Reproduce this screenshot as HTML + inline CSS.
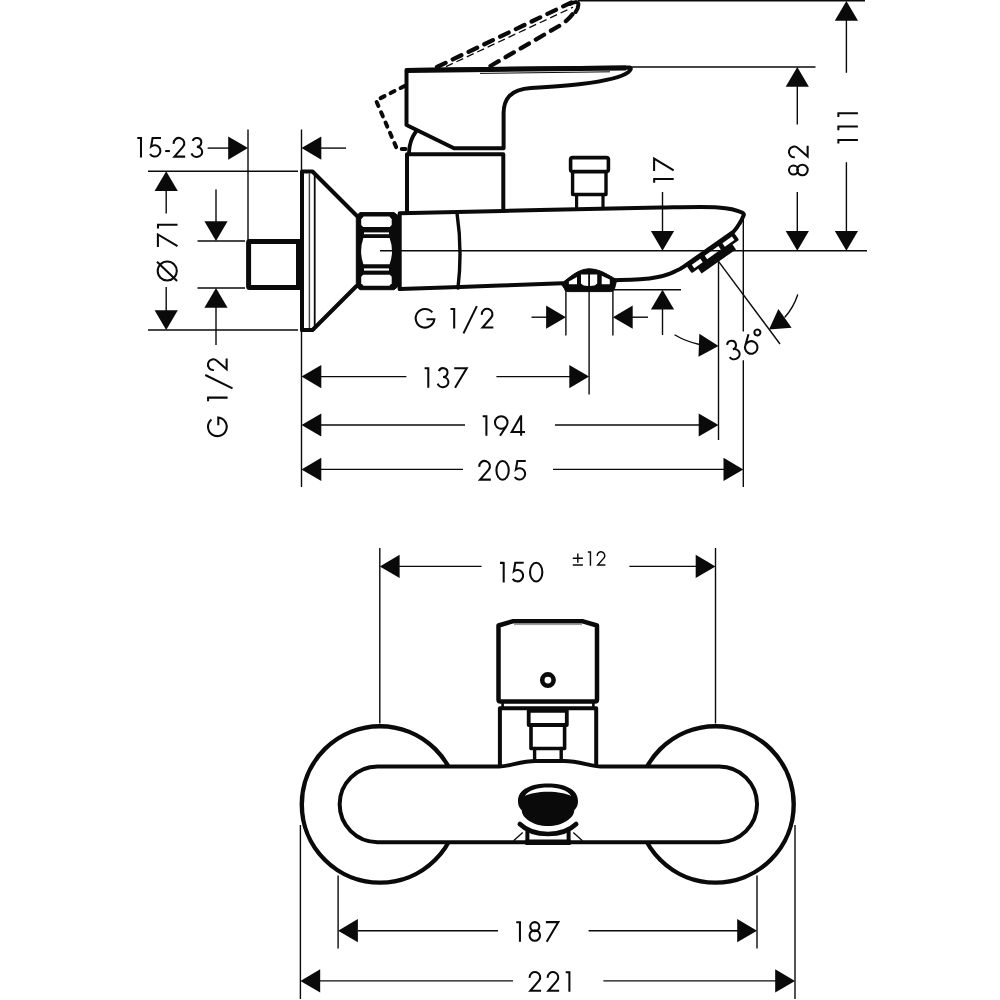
<!DOCTYPE html>
<html><head><meta charset="utf-8"><title>Dimension drawing</title>
<style>
html,body{margin:0;padding:0;background:#fff;}
body{width:1000px;height:1000px;overflow:hidden;font-family:"Liberation Sans",sans-serif;}
svg{display:block;}
</style></head>
<body>
<svg width="1000" height="1000" viewBox="0 0 1000 1000">
<rect x="0" y="0" width="1000" height="1000" fill="#ffffff"/>
<line x1="248" y1="129.5" x2="248" y2="240" stroke="#0a0a0a" stroke-width="1.4" />
<line x1="301.5" y1="129.5" x2="301.5" y2="487" stroke="#0a0a0a" stroke-width="1.4" />
<line x1="148" y1="171.3" x2="298" y2="171.3" stroke="#0a0a0a" stroke-width="1.4" />
<line x1="148" y1="330" x2="298" y2="330" stroke="#0a0a0a" stroke-width="1.4" />
<line x1="197.5" y1="241" x2="245" y2="241" stroke="#0a0a0a" stroke-width="1.4" />
<line x1="197.5" y1="288" x2="245" y2="288" stroke="#0a0a0a" stroke-width="1.4" />
<line x1="207.6" y1="148.1" x2="229" y2="148.1" stroke="#0a0a0a" stroke-width="1.4" />
<polygon points="248,148.1 228.2,159.7 228.2,136.5" fill="#0a0a0a"/>
<polygon points="301.5,148.1 321.3,136.5 321.3,159.7" fill="#0a0a0a"/>
<line x1="321" y1="148.1" x2="346" y2="148.1" stroke="#0a0a0a" stroke-width="1.4" />
<polygon points="166.2,171.3 177.8,191.1 154.6,191.1" fill="#0a0a0a"/>
<line x1="166.2" y1="190.5" x2="166.2" y2="213.5" stroke="#0a0a0a" stroke-width="1.4" />
<line x1="166.2" y1="287" x2="166.2" y2="311" stroke="#0a0a0a" stroke-width="1.4" />
<polygon points="166.2,330 154.6,310.2 177.8,310.2" fill="#0a0a0a"/>
<line x1="216" y1="189.5" x2="216" y2="222" stroke="#0a0a0a" stroke-width="1.4" />
<polygon points="216,241 204.4,221.2 227.6,221.2" fill="#0a0a0a"/>
<polygon points="216,288 227.6,307.8 204.4,307.8" fill="#0a0a0a"/>
<line x1="216" y1="307" x2="216" y2="345" stroke="#0a0a0a" stroke-width="1.4" />
<line x1="631" y1="67" x2="815.5" y2="67" stroke="#0a0a0a" stroke-width="1.4" />
<line x1="578" y1="0.5" x2="865" y2="0.5" stroke="#0a0a0a" stroke-width="2.2" />
<polygon points="797.3,67 808.9,86.8 785.7,86.8" fill="#0a0a0a"/>
<line x1="797.3" y1="86" x2="797.3" y2="124.5" stroke="#0a0a0a" stroke-width="1.4" />
<line x1="797.3" y1="192" x2="797.3" y2="232" stroke="#0a0a0a" stroke-width="1.4" />
<polygon points="797.3,250.7 785.7,230.9 808.9,230.9" fill="#0a0a0a"/>
<polygon points="846.4,1 858,20.8 834.8,20.8" fill="#0a0a0a"/>
<line x1="846.4" y1="20" x2="846.4" y2="72.8" stroke="#0a0a0a" stroke-width="1.4" />
<line x1="846.4" y1="162.2" x2="846.4" y2="231" stroke="#0a0a0a" stroke-width="1.4" />
<polygon points="846.4,250.7 834.8,230.9 858,230.9" fill="#0a0a0a"/>
<line x1="662.5" y1="192" x2="662.5" y2="232" stroke="#0a0a0a" stroke-width="1.4" />
<polygon points="662.5,250.7 650.9,230.9 674.1,230.9" fill="#0a0a0a"/>
<line x1="614" y1="289.8" x2="681" y2="289.8" stroke="#0a0a0a" stroke-width="1.4" />
<polygon points="662.5,289.8 674.1,309.6 650.9,309.6" fill="#0a0a0a"/>
<line x1="662.5" y1="309" x2="662.5" y2="335" stroke="#0a0a0a" stroke-width="1.4" />
<line x1="565.9" y1="291" x2="565.9" y2="335.5" stroke="#0a0a0a" stroke-width="1.4" />
<line x1="612.9" y1="291" x2="612.9" y2="335.5" stroke="#0a0a0a" stroke-width="1.4" />
<line x1="589.1" y1="272" x2="589.1" y2="394.4" stroke="#0a0a0a" stroke-width="1.4" />
<line x1="531.5" y1="317.2" x2="547" y2="317.2" stroke="#0a0a0a" stroke-width="1.4" />
<polygon points="565.9,317.2 546.1,328.8 546.1,305.6" fill="#0a0a0a"/>
<polygon points="612.9,317.2 632.7,305.6 632.7,328.8" fill="#0a0a0a"/>
<line x1="632" y1="317.2" x2="648" y2="317.2" stroke="#0a0a0a" stroke-width="1.4" />
<line x1="718.5" y1="261.3" x2="718.5" y2="440" stroke="#0a0a0a" stroke-width="1.4" />
<line x1="743.3" y1="218" x2="743.3" y2="331.5" stroke="#0a0a0a" stroke-width="1.4" />
<line x1="743.3" y1="360.3" x2="743.3" y2="487" stroke="#0a0a0a" stroke-width="1.4" />
<line x1="718.5" y1="261.3" x2="780" y2="344" stroke="#0a0a0a" stroke-width="1.4" />
<polygon points="301.5,376.6 321.3,365 321.3,388.2" fill="#0a0a0a"/>
<line x1="321" y1="376.6" x2="406.4" y2="376.6" stroke="#0a0a0a" stroke-width="1.4" />
<line x1="496.4" y1="376.6" x2="570" y2="376.6" stroke="#0a0a0a" stroke-width="1.4" />
<polygon points="589.1,376.6 569.3,388.2 569.3,365" fill="#0a0a0a"/>
<polygon points="301.5,425 321.3,413.4 321.3,436.6" fill="#0a0a0a"/>
<line x1="321" y1="425" x2="465" y2="425" stroke="#0a0a0a" stroke-width="1.4" />
<line x1="555" y1="425" x2="699.5" y2="425" stroke="#0a0a0a" stroke-width="1.4" />
<polygon points="718.5,425 698.7,436.6 698.7,413.4" fill="#0a0a0a"/>
<polygon points="301.5,469.4 321.3,457.8 321.3,481" fill="#0a0a0a"/>
<line x1="321" y1="469.4" x2="463" y2="469.4" stroke="#0a0a0a" stroke-width="1.4" />
<line x1="553" y1="469.4" x2="724.5" y2="469.4" stroke="#0a0a0a" stroke-width="1.4" />
<polygon points="743.3,469.4 723.5,481 723.5,457.8" fill="#0a0a0a"/>
<line x1="379.8" y1="548" x2="379.8" y2="723.5" stroke="#0a0a0a" stroke-width="1.4" />
<line x1="715.5" y1="548" x2="715.5" y2="723.5" stroke="#0a0a0a" stroke-width="1.4" />
<polygon points="379.8,566.4 399.6,554.8 399.6,578" fill="#0a0a0a"/>
<line x1="399" y1="566.4" x2="481.6" y2="566.4" stroke="#0a0a0a" stroke-width="1.4" />
<line x1="629.4" y1="566.4" x2="696.5" y2="566.4" stroke="#0a0a0a" stroke-width="1.4" />
<polygon points="715.5,566.4 695.7,578 695.7,554.8" fill="#0a0a0a"/>
<line x1="300.4" y1="825" x2="300.4" y2="999" stroke="#0a0a0a" stroke-width="1.4" />
<line x1="795" y1="825" x2="795" y2="999" stroke="#0a0a0a" stroke-width="1.4" />
<line x1="338.1" y1="875.5" x2="338.1" y2="948.5" stroke="#0a0a0a" stroke-width="1.4" />
<line x1="757" y1="875.5" x2="757" y2="948.6" stroke="#0a0a0a" stroke-width="1.4" />
<polygon points="338.1,930.7 357.9,919.1 357.9,942.3" fill="#0a0a0a"/>
<line x1="358" y1="930.7" x2="498" y2="930.7" stroke="#0a0a0a" stroke-width="1.4" />
<line x1="588.6" y1="930.7" x2="738" y2="930.7" stroke="#0a0a0a" stroke-width="1.4" />
<polygon points="757,930.7 737.2,942.3 737.2,919.1" fill="#0a0a0a"/>
<polygon points="300.4,980.9 320.2,969.3 320.2,992.5" fill="#0a0a0a"/>
<line x1="320" y1="980.9" x2="513" y2="980.9" stroke="#0a0a0a" stroke-width="1.4" />
<line x1="603.4" y1="980.9" x2="776" y2="980.9" stroke="#0a0a0a" stroke-width="1.4" />
<polygon points="795,980.9 775.2,992.5 775.2,969.3" fill="#0a0a0a"/>
<g transform="translate(137.3,157.6) scale(0.2050)" fill="none" stroke="#0a0a0a" stroke-width="10" stroke-linejoin="miter" stroke-miterlimit="6"><path transform="translate(0,-100)" d="M0,4.7 H18 M18,0 V100"/><path transform="translate(54.5,-100)" d="M61,4.4 H20 L13,46 A27.6,27.6 0 1 1 7.59,82.63"/><path transform="translate(136,-100)" d="M0,68 H23"/><path transform="translate(172.5,-100)" d="M5,33 A26,26 0 1 1 50,47.5 L8.5,95.3 H61"/><path transform="translate(260.5,-100)" d="M9.7,18.61 A21.6,21.6 0 1 1 30,47.6 A26.6,24.6 0 1 1 4,79.41"/></g>
<g transform="translate(424.6,387.8) scale(0.2050)" fill="none" stroke="#0a0a0a" stroke-width="10" stroke-linejoin="miter" stroke-miterlimit="6"><path transform="translate(0,-100)" d="M0,4.7 H18 M18,0 V100"/><path transform="translate(60,-100)" d="M9.7,18.61 A21.6,21.6 0 1 1 30,47.6 A26.6,24.6 0 1 1 4,79.41"/><path transform="translate(141.5,-100)" d="M3,4.4 H64 L7,100"/></g>
<g transform="translate(482.7,435.8) scale(0.2050)" fill="none" stroke="#0a0a0a" stroke-width="10" stroke-linejoin="miter" stroke-miterlimit="6"><path transform="translate(0,-100)" d="M0,4.7 H18 M18,0 V100"/><path transform="translate(55.5,-100)" d="M29,100 L60.6,51.75 M4.4,35 A30.6,30.6 0 1 1 65.6,35 A30.6,30.6 0 1 1 4.4,35 Z"/><path transform="translate(135.5,-100)" d="M52,0 V100 M50,5 L6,81.6 H71"/></g>
<g transform="translate(478.3,480.6) scale(0.2050)" fill="none" stroke="#0a0a0a" stroke-width="10" stroke-linejoin="miter" stroke-miterlimit="6"><path transform="translate(0,-100)" d="M5,33 A26,26 0 1 1 50,47.5 L8.5,95.3 H61"/><path transform="translate(84,-100)" d="M4.4,50 A30.1,45.6 0 1 1 64.6,50 A30.1,45.6 0 1 1 4.4,50 Z"/><path transform="translate(170.5,-100)" d="M61,4.4 H20 L13,46 A27.6,27.6 0 1 1 7.59,82.63"/></g>
<g transform="translate(414.8,328.5) scale(0.2050)" fill="none" stroke="#0a0a0a" stroke-width="10" stroke-linejoin="miter" stroke-miterlimit="6"><path transform="translate(0,-100)" d="M85.44,21.3 A45.6,45.6 0 1 0 95.37,54.61 H57"/></g>
<g transform="translate(450.5,328.5) scale(0.2050)" fill="none" stroke="#0a0a0a" stroke-width="10" stroke-linejoin="miter" stroke-miterlimit="6"><path transform="translate(0,-100)" d="M0,4.7 H18 M18,0 V100"/></g>
<g transform="translate(463.5,328.5) scale(0.2050)" fill="none" stroke="#0a0a0a" stroke-width="10" stroke-linejoin="miter" stroke-miterlimit="6"><path transform="translate(0,-100)" d="M65,-9 L0,124"/></g>
<g transform="translate(480.8,328.5) scale(0.2050)" fill="none" stroke="#0a0a0a" stroke-width="10" stroke-linejoin="miter" stroke-miterlimit="6"><path transform="translate(0,-100)" d="M5,33 A26,26 0 1 1 50,47.5 L8.5,95.3 H61"/></g>
<g transform="translate(500,582.4) scale(0.2050)" fill="none" stroke="#0a0a0a" stroke-width="10" stroke-linejoin="miter" stroke-miterlimit="6"><path transform="translate(0,-100)" d="M0,4.7 H18 M18,0 V100"/><path transform="translate(54.5,-100)" d="M61,4.4 H20 L13,46 A27.6,27.6 0 1 1 7.59,82.63"/><path transform="translate(142,-100)" d="M4.4,50 A30.1,45.6 0 1 1 64.6,50 A30.1,45.6 0 1 1 4.4,50 Z"/></g>
<g transform="translate(572.75,565.75) scale(0.1450)" fill="none" stroke="#0a0a0a" stroke-width="10" stroke-linejoin="miter" stroke-miterlimit="6"><path transform="translate(0,-100)" d="M0,48 H70 M35,16 V80 M0,95 H70"/><path transform="translate(104,-100)" d="M0,4.7 H18 M18,0 V100"/><path transform="translate(164,-100)" d="M5,33 A26,26 0 1 1 50,47.5 L8.5,95.3 H61"/></g>
<g transform="translate(516.25,941.7) scale(0.2050)" fill="none" stroke="#0a0a0a" stroke-width="10" stroke-linejoin="miter" stroke-miterlimit="6"><path transform="translate(0,-100)" d="M0,4.7 H18 M18,0 V100"/><path transform="translate(59.5,-100)" d="M9,26.4 A22,22 0 1 1 53,26.4 A22,22 0 1 1 9,26.4 Z M5.4,70 A25.6,25.6 0 1 1 56.6,70 A25.6,25.6 0 1 1 5.4,70 Z"/><path transform="translate(141.5,-100)" d="M3,4.4 H64 L7,100"/></g>
<g transform="translate(528.6,991.7) scale(0.2050)" fill="none" stroke="#0a0a0a" stroke-width="10" stroke-linejoin="miter" stroke-miterlimit="6"><path transform="translate(0,-100)" d="M5,33 A26,26 0 1 1 50,47.5 L8.5,95.3 H61"/><path transform="translate(88,-100)" d="M5,33 A26,26 0 1 1 50,47.5 L8.5,95.3 H61"/><path transform="translate(181,-100)" d="M0,4.7 H18 M18,0 V100"/></g>
<g transform="translate(730.1,361.4) rotate(-17) scale(0.2050)" fill="none" stroke="#0a0a0a" stroke-width="10" stroke-linejoin="miter" stroke-miterlimit="6"><path transform="translate(0,-100)" d="M9.7,18.61 A21.6,21.6 0 1 1 30,47.6 A26.6,24.6 0 1 1 4,79.41"/><path transform="translate(83.5,-100)" d="M41,0 L9.4,48.25 M4.4,65 A30.6,30.6 0 1 1 65.6,65 A30.6,30.6 0 1 1 4.4,65 Z"/><path transform="translate(149.5,-100)" d="M4.4,4 A14.6,14.6 0 1 1 33.6,4 A14.6,14.6 0 1 1 4.4,4 Z"/></g>
<g transform="translate(177.5,281.5) rotate(-90) scale(0.2050)" fill="none" stroke="#0a0a0a" stroke-width="10" stroke-linejoin="miter" stroke-miterlimit="6"><path transform="translate(0,-100)" d="M4.4,50 A46.6,46.6 0 1 1 97.6,50 A46.6,46.6 0 1 1 4.4,50 Z M2,98 L96,0"/></g>
<g transform="translate(177.5,247.6) rotate(-90) scale(0.2050)" fill="none" stroke="#0a0a0a" stroke-width="10" stroke-linejoin="miter" stroke-miterlimit="6"><path transform="translate(0,-100)" d="M3,4.4 H64 L7,100"/><path transform="translate(93,-100)" d="M0,4.7 H18 M18,0 V100"/></g>
<g transform="translate(227.6,437) rotate(-90) scale(0.2050)" fill="none" stroke="#0a0a0a" stroke-width="10" stroke-linejoin="miter" stroke-miterlimit="6"><path transform="translate(0,-100)" d="M85.44,21.3 A45.6,45.6 0 1 0 95.37,54.61 H57"/></g>
<g transform="translate(227.6,401.3) rotate(-90) scale(0.2050)" fill="none" stroke="#0a0a0a" stroke-width="10" stroke-linejoin="miter" stroke-miterlimit="6"><path transform="translate(0,-100)" d="M0,4.7 H18 M18,0 V100"/></g>
<g transform="translate(227.6,388.3) rotate(-90) scale(0.2050)" fill="none" stroke="#0a0a0a" stroke-width="10" stroke-linejoin="miter" stroke-miterlimit="6"><path transform="translate(0,-100)" d="M65,-9 L0,124"/></g>
<g transform="translate(227.6,371) rotate(-90) scale(0.2050)" fill="none" stroke="#0a0a0a" stroke-width="10" stroke-linejoin="miter" stroke-miterlimit="6"><path transform="translate(0,-100)" d="M5,33 A26,26 0 1 1 50,47.5 L8.5,95.3 H61"/></g>
<g transform="translate(673.7,182.7) rotate(-90) scale(0.2050)" fill="none" stroke="#0a0a0a" stroke-width="10" stroke-linejoin="miter" stroke-miterlimit="6"><path transform="translate(0,-100)" d="M0,4.7 H18 M18,0 V100"/><path transform="translate(53.5,-100)" d="M3,4.4 H64 L7,100"/></g>
<g transform="translate(808.6,176.4) rotate(-90) scale(0.2050)" fill="none" stroke="#0a0a0a" stroke-width="10" stroke-linejoin="miter" stroke-miterlimit="6"><path transform="translate(0,-100)" d="M9,26.4 A22,22 0 1 1 53,26.4 A22,22 0 1 1 9,26.4 Z M5.4,70 A25.6,25.6 0 1 1 56.6,70 A25.6,25.6 0 1 1 5.4,70 Z"/><path transform="translate(88.5,-100)" d="M5,33 A26,26 0 1 1 50,47.5 L8.5,95.3 H61"/></g>
<g transform="translate(857.9,143.6) rotate(-90) scale(0.2050)" fill="none" stroke="#0a0a0a" stroke-width="10" stroke-linejoin="miter" stroke-miterlimit="6"><path transform="translate(0,-100)" d="M0,4.7 H18 M18,0 V100"/><path transform="translate(65,-100)" d="M0,4.7 H18 M18,0 V100"/><path transform="translate(130,-100)" d="M0,4.7 H18 M18,0 V100"/></g>
<path d="M300,241.5 H249.6 Q248.6,241.5 248.6,242.5 V286.5 Q248.6,287.5 249.6,287.5 H300" fill="none" stroke="#0a0a0a" stroke-width="5" stroke-linejoin="round" stroke-linecap="round" />
<path d="M302,330 V171.5 H312.5 L356.5,215.5" fill="none" stroke="#0a0a0a" stroke-width="4" stroke-linejoin="round" stroke-linecap="round" />
<path d="M302,330 H312.5 L356.5,286" fill="none" stroke="#0a0a0a" stroke-width="4" stroke-linejoin="round" stroke-linecap="round" />
<line x1="309.4" y1="173.5" x2="309.4" y2="328" stroke="#0a0a0a" stroke-width="1.5" opacity="0.75"/>
<line x1="314.7" y1="175" x2="314.7" y2="326.5" stroke="#0a0a0a" stroke-width="1.8" />
<line x1="298.5" y1="240" x2="298.5" y2="289.5" stroke="#0a0a0a" stroke-width="5" />
<path d="M360,212.6 H394 L398,215.5 V286.5 L394,289.7 H360 L356.3,286.3 V216 Z" fill="#0a0a0a" stroke="#0a0a0a" stroke-width="1" stroke-linejoin="round"/>
<path d="M363.6,216.6 H389.4 L391.7,219.2 V225 L389.8,227 H363.2 L361.2,225 V219.2 Z" fill="#ffffff"/>
<path d="M363.6,285.8 H389.4 L391.7,283.2 V276.8 L389.8,274.8 H363.2 L361.2,276.8 V283.2 Z" fill="#ffffff"/>
<path d="M363.4,238 H389.6 Q394.4,251.2 389.6,264.3 H363.4 Q358.8,251.2 363.4,238 Z" fill="#ffffff"/>
<rect x="364" y="232.4" width="25" height="1.8" fill="#ffffff"/>
<rect x="364" y="268.4" width="25" height="2.2" fill="#ffffff"/>
<path d="M399.7,289 V213.2 L503,211 L540,210 C580,208.9 620,208.2 660,207.6 C685,207.2 705,206.6 718,207.4 C728,208 738,210.5 742,212.6 Q744.5,214 743.6,215.4 C742.8,217.5 742,220 739.5,223.5 C738,226 736,229 733.6,231.6 L688.4,263.4 C685.5,265.6 683,267.4 680,269 C676,271 673,272.5 670,273.6 C666,275 662,276.3 658,277 C651,278.4 646,278.9 640,279.3 C630,279.9 622,280 615.2,280.2" fill="none" stroke="#0a0a0a" stroke-width="4" stroke-linejoin="round" stroke-linecap="round" />
<path d="M562.5,283.3 L500,285.6 L460,287.1 L399.7,289" fill="none" stroke="#0a0a0a" stroke-width="4" stroke-linejoin="round" stroke-linecap="round" />
<path d="M457,213 Q462.5,250 458,288" fill="none" stroke="#0a0a0a" stroke-width="3.4" stroke-linejoin="round" stroke-linecap="round" />
<path d="M407,211 V154.3 H503.3 V210" fill="none" stroke="#0a0a0a" stroke-width="4" stroke-linejoin="round" stroke-linecap="round" />
<path d="M406.5,70 V125 L454,148.3 H503.6 V113 C503.8,99 510,89.5 531,88 C548,87 565,86 581,84 C606,81 622,77 628.5,72 Q632.5,68.5 629.5,67.5 L406.5,70 Z" fill="none" stroke="#0a0a0a" stroke-width="4" stroke-linejoin="round" stroke-linecap="round" />
<line x1="406.5" y1="70.4" x2="626" y2="68" stroke="#0a0a0a" stroke-width="5" />
<line x1="480" y1="73.4" x2="610" y2="71.8" stroke="#0a0a0a" stroke-width="1" />
<path d="M409,152.5 Q409.5,140 416,131.5" fill="none" stroke="#0a0a0a" stroke-width="3.8" stroke-linejoin="round" stroke-linecap="round" />
<path d="M404.5,86 L376,100.5 L397,149 H405.5" fill="none" stroke="#0a0a0a" stroke-width="4" stroke-linejoin="round" stroke-linecap="round" stroke-dasharray="4.4 6.8"/>
<path d="M437,67 L571,2.6" fill="none" stroke="#0a0a0a" stroke-width="4.3" stroke-dasharray="9.5 8" stroke-linecap="round"/>
<path d="M446,66.6 L573,7.2" fill="none" stroke="#0a0a0a" stroke-width="1.3" stroke-dasharray="7.5 4"/>
<path d="M490.5,66 L559,26 Q570,19 574,12" fill="none" stroke="#0a0a0a" stroke-width="4.3" stroke-dasharray="9.5 8" stroke-linecap="round"/>
<path d="M570,4 Q577,0.5 578.3,3.5 Q578.8,8 575.6,12" fill="none" stroke="#0a0a0a" stroke-width="4" stroke-linejoin="round" stroke-linecap="round" />
<rect x="570.6" y="157.6" width="37.8" height="14" rx="2" ry="2" fill="none" stroke="#0a0a0a" stroke-width="3.6"/>
<path d="M572.6,172 V194.5 H606 V172" fill="none" stroke="#0a0a0a" stroke-width="3.4" stroke-linejoin="round" stroke-linecap="round" />
<path d="M576.6,195 V207 M603,195 V207" fill="none" stroke="#0a0a0a" stroke-width="3.2" stroke-linejoin="round" stroke-linecap="round" />
<path d="M561,283.6 C569,278.5 577,269 589,268.8 C601,269 608.5,275.5 616.8,279.6 L614.6,288.5 Q614.2,291.6 610.5,291.6 H568.2 Q564.6,291.6 564.3,288.5 Z" fill="#0a0a0a" stroke="#0a0a0a" stroke-width="1" stroke-linejoin="round"/>
<path d="M568.9,284.2 V281.6 L577,277 V284.2 Z" fill="#ffffff"/>
<path d="M581,274.6 H588.2 V286 Q583,286 581,283.5 Z" fill="#ffffff"/>
<path d="M590,274.6 H597.2 V283.5 Q595.2,286 590,286 Z" fill="#ffffff"/>
<path d="M601.7,275.8 L609.8,279.6 V284.2 H601.7 Z" fill="#ffffff"/>
<g transform="translate(688.4,263.4) rotate(-35.1)">
<rect x="5" y="8" width="42" height="7.9" fill="#0a0a0a"/>
<rect x="-3" y="0" width="58" height="10" rx="1.5" ry="1.5" fill="#0a0a0a"/>
<rect x="2" y="3.1" width="10.4" height="4.2" fill="#fff"/>
<rect x="17.8" y="3.1" width="16.7" height="4.2" fill="#fff"/>
<rect x="39.4" y="3.1" width="11.7" height="4.2" fill="#fff"/>
</g>
<polygon points="718.5,346 698.51,356.81 699.31,333.82" fill="#0a0a0a"/>
<path d="M675,335 Q686,341.5 699.5,344.5" fill="none" stroke="#0a0a0a" stroke-width="1.4" stroke-linejoin="round" stroke-linecap="round" />
<polygon points="769,329.6 778.39,308.9 791.65,327.7" fill="#0a0a0a"/>
<path d="M785,317 Q793.5,307.5 797.6,295" fill="none" stroke="#0a0a0a" stroke-width="1.4" stroke-linejoin="round" stroke-linecap="round" />
<circle cx="380" cy="804.4" r="78.2" fill="#fff" stroke="#0a0a0a" stroke-width="4.4"/>
<circle cx="715.5" cy="804.4" r="78.2" fill="#fff" stroke="#0a0a0a" stroke-width="4.4"/>
<path d="M499.9,768 V708.2 H596.2 V768" fill="none" stroke="#0a0a0a" stroke-width="4" stroke-linejoin="round" stroke-linecap="round" />
<path d="M502.6,702 V708 M593.4,702 V708" fill="none" stroke="#0a0a0a" stroke-width="2.6" stroke-linejoin="round" stroke-linecap="round" />
<path d="M498.5,625.5 L512.5,621.3 H583 L597,625.5 V699.5 Q597,701.6 594.9,701.6 H500.6 Q498.5,701.6 498.5,699.5 Z" fill="none" stroke="#0a0a0a" stroke-width="4.5" stroke-linejoin="round" stroke-linecap="round" />
<line x1="514" y1="624.6" x2="582" y2="624.6" stroke="#0a0a0a" stroke-width="0.9" opacity="0.5"/>
<circle cx="547.9" cy="680.1" r="5.7" fill="none" stroke="#0a0a0a" stroke-width="4.6"/>
<path d="M528.7,709 V725 H566.8 V709" fill="none" stroke="#0a0a0a" stroke-width="3.8" stroke-linejoin="round" stroke-linecap="round" />
<line x1="528.7" y1="710.2" x2="566.8" y2="710.2" stroke="#0a0a0a" stroke-width="5" />
<path d="M531,725 V748.5 H564.6 V725" fill="none" stroke="#0a0a0a" stroke-width="3.6" stroke-linejoin="round" stroke-linecap="round" />
<path d="M534.6,748.5 V761 M561.2,748.5 V761" fill="none" stroke="#0a0a0a" stroke-width="3.4" stroke-linejoin="round" stroke-linecap="round" />
<path d="M377.5,766.5 H499 C510,766.5 520,761 536,761 H564 C580,761 590,766.5 601,766.5 H719.2 A37.85,37.85 0 0 1 719.2,842.2 H377.5 A37.85,37.85 0 0 1 377.5,766.5 Z" fill="#fff" stroke="#0a0a0a" stroke-width="4" stroke-linejoin="round"/>
<path d="M518,801 C518,789 532,783.6 548,783.6 C564,783.6 578,789 578,801 C578,806 576,808.5 574.3,810 C574.3,818 563,826 548,826 C533,826 521.7,818 521.7,810 C520,808.5 518,806 518,801 Z" fill="#0a0a0a"/>
<path d="M524.8,796 C529,790 538,787.6 548,787.6 C558,787.6 567,790 571.2,796 C566,793.4 558,791.8 548,791.8 C538,791.8 530,793.4 524.8,796 Z" fill="#fff"/>
<path d="M519.8,824 C527,831 537,834 548,834 C559,834 569,831 576.2,824" fill="none" stroke="#0a0a0a" stroke-width="4.6" stroke-linejoin="round" stroke-linecap="round" />
<path d="M527.4,831.5 V842 M568.6,831.5 V842" fill="none" stroke="#0a0a0a" stroke-width="4" stroke-linejoin="round" stroke-linecap="round" />
<line x1="525.4" y1="842.3" x2="570.6" y2="842.3" stroke="#0a0a0a" stroke-width="5.6" />
<line x1="513.6" y1="840.8" x2="522.7" y2="832.4" stroke="#0a0a0a" stroke-width="1.3" />
<line x1="573.3" y1="832.4" x2="582.4" y2="840.8" stroke="#0a0a0a" stroke-width="1.3" />
<line x1="380" y1="250.7" x2="867" y2="250.7" stroke="#0a0a0a" stroke-width="1.4" />
</svg>
</body></html>
